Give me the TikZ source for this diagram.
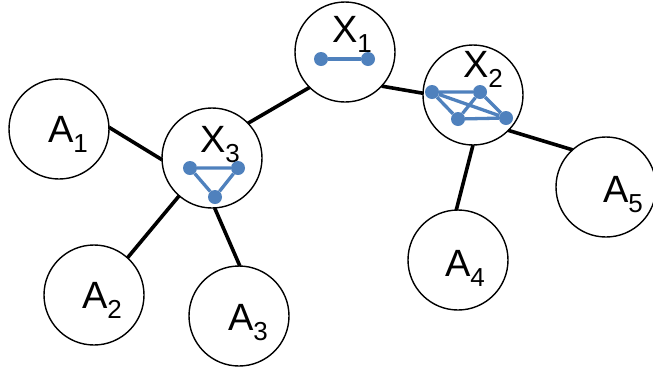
\documentclass[tikz,border=0pt]{standalone}
\usepackage{fontspec}
\setmainfont{Liberation Sans}
\definecolor{gblue}{HTML}{4F81BD}
\newcommand{\lbl}[2]{#1\raisebox{-10pt}{\fontsize{26}{28}\selectfont #2}}
\tikzset{
  bub/.style={circle,draw=black,line width=1.4pt,fill=white,minimum size=100pt,inner sep=0pt,outer sep=0pt},
  txt/.style={anchor=base west,inner sep=0pt,outer sep=0pt,font=\fontsize{38}{40}\selectfont},
  conn/.style={line width=3.6pt,black},
  gedge/.style={line width=3.3pt,gblue},
  gdot/.style={circle,fill=gblue,minimum size=14pt,inner sep=0pt}
}
\begin{document}
\begin{tikzpicture}[x=1pt,y=-1pt]
\useasboundingbox (0,0) rectangle (653,373);
% circles
\node[bub] (x1) at (345,52) {};
\node[bub] (x2) at (473,95) {};
\node[bub] (x3) at (212,158) {};
\node[bub] (a1) at (59,129) {};
\node[bub] (a2) at (94,295) {};
\node[bub] (a3) at (239,316) {};
\node[bub] (a4) at (458,260) {};
\node[bub] (a5) at (606,187) {};
% connectors
\draw[conn] (a1.2) -- (x3.182);
\draw[conn] (x3.44) -- (x1.225);
\draw[conn] (x1.-43) -- (x2.178);
\draw[conn] (x3.229) -- (a2.48);
\draw[conn] (x3.273) -- (a3.89);
\draw[conn] (x2.270) -- (a4.92);
\draw[conn] (x2.-45) -- (a5.132);
% labels
\node[txt] (tx1) at (332,42) {\lbl{X}{1}};
\node[txt] (tx2) at (463,77) {\lbl{X}{2}};
\node[txt] (tx3) at (200,152) {\lbl{X}{3}};
\node[txt] (ta1) at (48,142) {\lbl{A}{1}};
\node[txt] (ta2) at (82,308) {\lbl{A}{2}};
\node[txt] (ta3) at (228,330) {\lbl{A}{3}};
\node[txt] (ta4) at (445,276) {\lbl{A}{4}};
\node[txt] (ta5) at (603,202) {\lbl{A}{5}};
% X1 graph
\node[gdot] (p1) at (321,59) {};
\node[gdot] (p2) at (368,59) {};
\draw[gedge] (p1) -- (p2);
% X2 graph
\node[gdot] (q1) at (432,92) {};
\node[gdot] (q2) at (480,92) {};
\node[gdot] (q3) at (458,119) {};
\node[gdot] (q4) at (506,118) {};
\draw[gedge] (q1) -- (q2) (q1) -- (q3) (q1) -- (q4) (q2) -- (q3) (q2) -- (q4) (q3) -- (q4);
% X3 graph
\node[gdot] (r1) at (190,168) {};
\node[gdot] (r2) at (238,168) {};
\node[gdot] (r3) at (215,197) {};
\draw[gedge] (r1) -- (r2) -- (r3) -- (r1);
\end{tikzpicture}
\end{document}
